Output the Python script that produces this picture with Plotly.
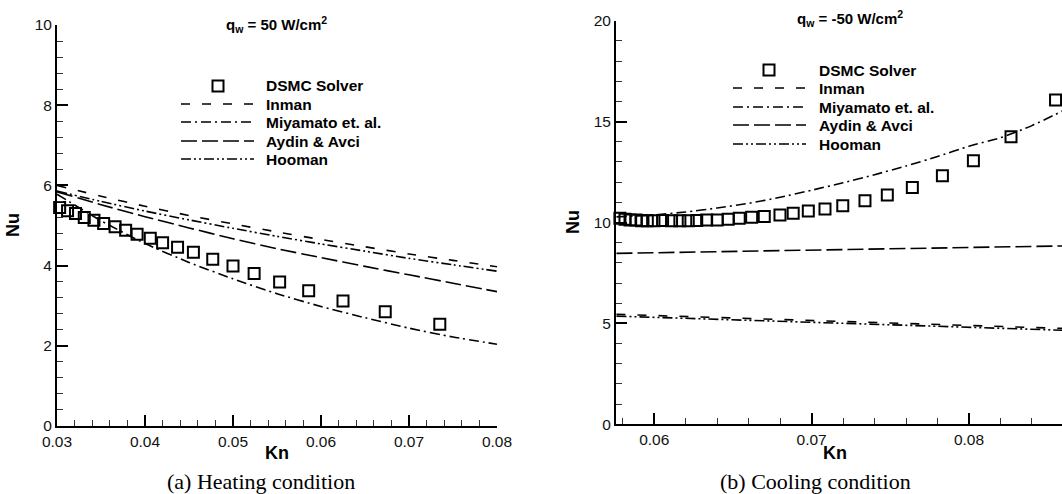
import plotly.graph_objects as go

# ---------------- data: heating case (q_w = 50 W/cm^2) ----------------
kn_dsmc_heat = [0.0303, 0.0312, 0.0321, 0.0331, 0.0342, 0.0353, 0.0366, 0.0378,
                0.0391, 0.0406, 0.0420, 0.0437, 0.0455, 0.0477, 0.0500, 0.0524,
                0.0553, 0.0586, 0.0625, 0.0673, 0.0735]
nu_dsmc_heat = [5.45, 5.37, 5.30, 5.20, 5.13, 5.05, 4.97, 4.88,
                4.78, 4.68, 4.57, 4.46, 4.33, 4.16, 3.99, 3.80,
                3.59, 3.37, 3.12, 2.85, 2.54]

kn_model_heat = [0.030, 0.035, 0.040, 0.045, 0.050, 0.055, 0.060, 0.065, 0.070, 0.075, 0.080]
nu_inman_heat = [6.00, 5.73, 5.48, 5.25, 5.04, 4.84, 4.65, 4.47, 4.29, 4.13, 3.97]
nu_miyamoto_heat = [5.78, 5.12, 4.55, 4.08, 3.67, 3.30, 2.98, 2.70, 2.44, 2.22, 2.04]
nu_aydin_heat = [5.84, 5.52, 5.22, 4.94, 4.67, 4.42, 4.20, 3.98, 3.77, 3.56, 3.35]
nu_hooman_heat = [5.86, 5.60, 5.36, 5.14, 4.93, 4.73, 4.54, 4.36, 4.18, 4.02, 3.86]

# ---------------- data: cooling case (q_w = -50 W/cm^2) ----------------
kn_dsmc_cool = [0.05782, 0.05814, 0.05846, 0.05884, 0.05920, 0.05956, 0.05998, 0.06053,
                0.06110, 0.06163, 0.06216, 0.06270, 0.06333, 0.06400, 0.06470, 0.06540,
                0.06619, 0.06699, 0.06799, 0.06883, 0.06979, 0.07085, 0.07198, 0.07339,
                0.07481, 0.07640, 0.07831, 0.08028, 0.08267, 0.08550]
nu_dsmc_cool = [10.21, 10.16, 10.12, 10.12, 10.09, 10.09, 10.09, 10.10,
                10.09, 10.09, 10.09, 10.10, 10.12, 10.13, 10.16, 10.21,
                10.26, 10.30, 10.37, 10.46, 10.57, 10.67, 10.83, 11.08,
                11.36, 11.74, 12.32, 13.06, 14.25, 16.07]

kn_model_cool = [0.0576, 0.060, 0.062, 0.064, 0.066, 0.068, 0.070, 0.072, 0.074,
                 0.076, 0.078, 0.080, 0.082, 0.084, 0.086]
nu_miyamoto_cool = [10.28, 10.38, 10.52, 10.72, 10.95, 11.25, 11.60, 11.97, 12.37,
                    12.80, 13.27, 13.78, 14.20, 14.80, 15.55]
kn_flat_cool = [0.0576, 0.086]
nu_aydin_cool = [8.47, 8.84]
nu_inman_cool = [5.45, 4.75]
nu_hooman_cool = [5.36, 4.66]

series_names = ["DSMC Solver", "Inman", "Miyamato et. al.", "Aydin & Avci", "Hooman"]
dashes = {
    "Inman": "9px,12px",
    "Miyamato et. al.": "10px,4px,2px,4px",
    "Aydin & Avci": "16px,5px",
    "Hooman": "10px,3px,2px,3px,2px,3px",
}

W, H = 1062, 494


def fx(p):
    return p / W


def fy(p):
    return 1 - p / H


LW = 1.6
fig = go.Figure()


def add_line(x, y, name, xa, ya):
    fig.add_trace(go.Scatter(x=x, y=y, mode="lines", name=name, xaxis=xa, yaxis=ya,
                             line=dict(color="black", width=LW, dash=dashes[name],
                                       shape="spline", smoothing=0.6),
                             showlegend=False))


def add_squares(x, y, xa, ya):
    fig.add_trace(go.Scatter(x=x, y=y, mode="markers", name="DSMC Solver", xaxis=xa, yaxis=ya,
                             marker=dict(symbol="square-open", size=11, color="black",
                                         line=dict(color="black", width=2)),
                             cliponaxis=False, showlegend=False))


# heating panel
add_line(kn_model_heat, nu_inman_heat, "Inman", "x", "y")
add_line(kn_model_heat, nu_miyamoto_heat, "Miyamato et. al.", "x", "y")
add_line(kn_model_heat, nu_aydin_heat, "Aydin & Avci", "x", "y")
add_line(kn_model_heat, nu_hooman_heat, "Hooman", "x", "y")
add_squares(kn_dsmc_heat, nu_dsmc_heat, "x", "y")

# cooling panel
add_line(kn_flat_cool, nu_inman_cool, "Inman", "x2", "y2")
add_line(kn_model_cool, nu_miyamoto_cool, "Miyamato et. al.", "x2", "y2")
add_line(kn_flat_cool, nu_aydin_cool, "Aydin & Avci", "x2", "y2")
add_line(kn_flat_cool, nu_hooman_cool, "Hooman", "x2", "y2")
add_squares(kn_dsmc_cool, nu_dsmc_cool, "x2", "y2")

tick_font = dict(family="Liberation Sans, Arial, sans-serif", size=15.5, color="#111")


def axis_style(**kw):
    d = dict(showline=True, linewidth=2, linecolor="black", ticks="inside", ticklen=11,
             tickwidth=2, tickcolor="black", showgrid=False, zeroline=False,
             tickfont=tick_font, automargin=False, layer="above traces")
    d.update(kw)
    return d


def minor_ticks(step):
    return dict(ticks="inside", ticklen=6, tickwidth=1, tickcolor="#333", dtick=step,
                showgrid=False)


fig.update_layout(
    width=W, height=H,
    margin=dict(l=0, r=0, t=0, b=0, autoexpand=False),
    paper_bgcolor="white", plot_bgcolor="white",
    xaxis=axis_style(domain=[fx(57), fx(497)], range=[0.03, 0.08], anchor="y",
                     dtick=0.01, tick0=0.03, tickformat=".2f", minor=minor_ticks(0.002)),
    yaxis=axis_style(domain=[fy(426), fy(25)], range=[0, 10], anchor="x",
                     dtick=2, tick0=0, minor=minor_ticks(0.4)),
    xaxis2=axis_style(domain=[fx(616), 1.0], range=[0.05757, 0.08591], anchor="y2",
                      dtick=0.01, tick0=0, tickformat=".2f", minor=minor_ticks(0.002)),
    yaxis2=axis_style(domain=[fy(424.3), fy(20.7)], range=[0, 20], anchor="x2",
                      dtick=5, tick0=0, minor=minor_ticks(1)),
    showlegend=False,
)

bold = "Liberation Sans, Arial, sans-serif"
annotations = []
shapes = []


def text(x, y, s, size, family=bold, angle=0, xanchor="center"):
    annotations.append(dict(x=fx(x), y=fy(y), xref="paper", yref="paper", text=s,
                            showarrow=False, xanchor=xanchor, yanchor="middle",
                            textangle=angle,
                            font=dict(family=family, size=size, color="black")))


# panel titles, axis titles, captions
text(276, 24, "<b>q<sub>w</sub> = 50 W/cm<sup>2</sup></b>", 15)
text(850, 19, "<b>q<sub>w</sub> = -50 W/cm<sup>2</sup></b>", 15)
text(277, 453, "<b>Kn</b>", 18)
text(835, 453, "<b>Kn</b>", 18)
text(13, 225, "<b>Nu</b>", 18, angle=-90)
text(573, 222, "<b>Nu</b>", 18, angle=-90)
text(261, 481, "(a) Heating condition", 22, family="Liberation Serif, Times New Roman, serif")
text(815, 481, "(b) Cooling condition", 22, family="Liberation Serif, Times New Roman, serif")


# legend blocks drawn as shapes + text
def legend_block(x_line0, x_line1, x_text, x_sq, rows):
    for name, yrow in zip(series_names, rows):
        if name == "DSMC Solver":
            shapes.append(dict(type="rect", xref="paper", yref="paper",
                               x0=fx(x_sq - 5.5), x1=fx(x_sq + 5.5),
                               y0=fy(yrow + 5.5), y1=fy(yrow - 5.5),
                               line=dict(color="black", width=2), fillcolor="rgba(0,0,0,0)"))
        else:
            shapes.append(dict(type="line", xref="paper", yref="paper",
                               x0=fx(x_line0), x1=fx(x_line1), y0=fy(yrow), y1=fy(yrow),
                               line=dict(color="black", width=LW, dash=dashes[name])))
        text(x_text, yrow, "<b>%s</b>" % name, 15.5, xanchor="left")


legend_block(181, 254, 264, 218, [86, 104, 122, 141, 159])
legend_block(733, 806, 817, 769, [70, 88, 107, 125, 144])

fig.update_layout(annotations=annotations, shapes=shapes)
fig.write_html("out.html")
